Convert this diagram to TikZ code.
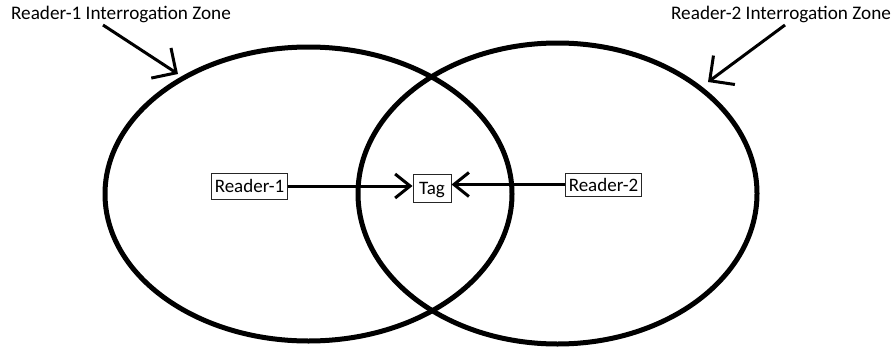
\documentclass[tikz,border=0pt]{standalone}
\usepackage{fontspec}
\setmainfont{Carlito}
\usetikzlibrary{arrows.meta}
\begin{document}
\begin{tikzpicture}[x=1pt,y=-1pt,
  zone/.style={line width=5pt},
  lbl/.style={font=\fontsize{19.2}{22}\selectfont, inner sep=0pt, text=black},
  box/.style={draw=black!85, line width=1pt, font=\fontsize{19}{22}\selectfont,
    inner xsep=3pt, inner ysep=0pt, minimum height=26pt, text depth=0pt},
  pointer/.style={line width=3pt, -{Straight Barb[length=18pt,width=36pt]}},
  link/.style={line width=3pt, -{Straight Barb[length=15pt,width=24pt]}}]
\useasboundingbox (0,0) rectangle (896,348);

% two overlapping interrogation zones
\draw[zone] (308.5,194) ellipse [x radius=203.5pt, y radius=147pt];
\draw[zone] (557.5,193.5) ellipse [x radius=199.5pt, y radius=150.5pt];

% zone captions with pointers
\node[lbl] (z1lbl) at (121,14) {Reader-1 Interrogation Zone};
\node[lbl] (z2lbl) at (781,14) {Reader-2 Interrogation Zone};
\coordinate (z1from) at (103,25);
\coordinate (z1tip) at (178,74);
\coordinate (z2from) at (785,25);
\coordinate (z2tip) at (708,82);
\draw[pointer] (z1from) -- (z1tip);
\draw[pointer] (z2from) -- (z2tip);

% readers and tag
\node[box] (r1) at (249.5,186) {Reader-1};
\node[box, minimum height=28pt, minimum width=38pt] (tag) at (432,188) {Tag};
\node[box, minimum height=23pt] (r2) at (603.5,184.5) {Reader-2};
\draw[link] (r1.east) -- (r1.east -| tag.west);
\draw[link] (r2.west) -- (r2.west -| tag.east);
\end{tikzpicture}
\end{document}
